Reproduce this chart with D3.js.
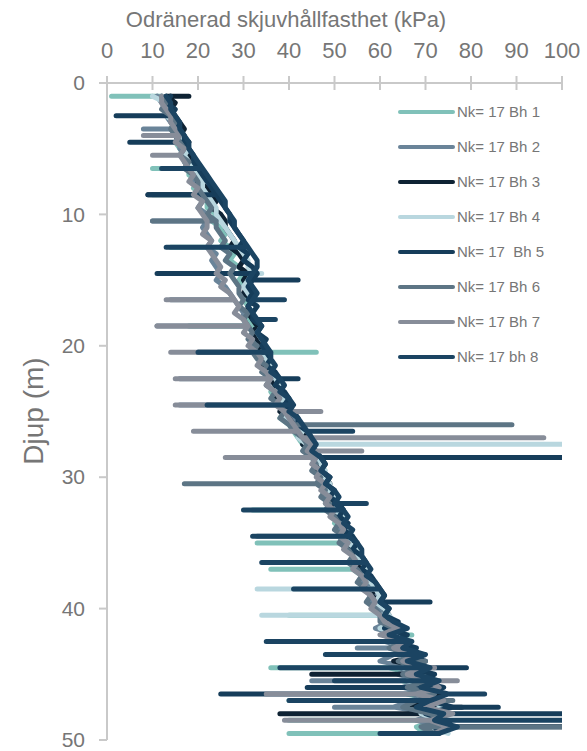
<!DOCTYPE html>
<html>
<head>
<meta charset="utf-8">
<script src="https://cdn.jsdelivr.net/npm/d3@7"></script>
<style>
  body { margin: 0; background: #fff; }
  text { font-family: "Liberation Sans", Arial, sans-serif; fill: #767676; }
</style>
</head>
<body>
<script>
// Depth grid (m), every 0.5 m from 1.0 to 49.5
var depths = d3.range(1, 49.75, 0.5);

var names = ["Nk= 17 Bh 1", "Nk= 17 Bh 2", "Nk= 17 Bh 3", "Nk= 17 Bh 4",
             "Nk= 17  Bh 5", "Nk= 17 Bh 6", "Nk= 17 Bh 7", "Nk= 17 bh 8"];
var colors = ["#80c1b9", "#6a8499", "#0e2233", "#b9d7df",
              "#163d5a", "#5d7585", "#878d99", "#1b4462"];

// Undrained shear strength (kPa) per borehole, one value per depth
var bh1 = [12, 14, 13, 14, 15, 14, 16, 15, 16, 17,
           17, 18, 18, 20, 19, 21, 22, 22, 24, 23,
           25, 26, 25, 27, 28, 27, 29, 30, 29, 30,
           31, 30, 31, 32, 31, 32, 33, 32, 34, 33,
           34, 35, 35, 36, 37, 36, 37, 38, 39, 38,
           40, 41, 42, 43, 44, 45, 46, 46, 47, 48,
           48, 49, 48, 50, 51, 50, 52, 51, 52, 53,
           54, 55, 54, 56, 57, 57, 58, 59, 60, 60,
           61, 64, 62, 66, 63, 67, 64, 62, 68, 65,
           70, 66, 72, 67, 69, 73, 68, 70];
var bh2 = [11, 12, 13, 13, 14, 15, 15, 16, 16, 17,
           17, 18, 19, 19, 20, 21, 21, 20, 22, 22,
           21, 22, 23, 22, 24, 23, 24, 25, 24, 26,
           27, 28, 29, 30, 30, 31, 32, 33, 32, 34,
           35, 34, 36, 35, 37, 38, 37, 39, 40, 41,
           42, 43, 44, 44, 45, 46, 47, 46, 48, 47,
           49, 48, 50, 49, 51, 52, 51, 53, 52, 54,
           55, 54, 56, 57, 56, 58, 59, 58, 60, 61,
           62, 59, 64, 61, 66, 63, 60, 67, 64, 69,
           65, 71, 67, 63, 72, 68, 74, 69];
var bh3 = [13, 15, 14, 15, 16, 17, 16, 18, 17, 18,
           19, 20, 21, 20, 22, 23, 24, 23, 25, 26,
           26, 27, 28, 27, 29, 30, 29, 31, 30, 31,
           30, 32, 31, 31, 32, 33, 32, 33, 34, 33,
           35, 34, 36, 36, 37, 38, 37, 39, 38, 40,
           41, 42, 44, 43, 45, 46, 47, 46, 48, 49,
           48, 50, 49, 51, 50, 52, 53, 52, 54, 53,
           55, 56, 55, 57, 58, 59, 58, 60, 61, 62,
           62, 65, 61, 66, 64, 69, 63, 70, 66, 72,
           68, 74, 70, 67, 73, 71, 76, 72];
var bh4 = [10, 13, 14, 13, 15, 15, 17, 16, 18, 17,
           18, 19, 20, 21, 21, 22, 23, 24, 24, 25,
           26, 27, 28, 29, 30, 31, 31, 32, 31, 30,
           31, 32, 33, 32, 33, 34, 33, 34, 35, 34,
           35, 36, 36, 37, 38, 37, 39, 38, 40, 39,
           41, 43, 42, 44, 45, 46, 47, 48, 47, 49,
           48, 50, 51, 50, 52, 51, 53, 54, 53, 55,
           55, 56, 57, 56, 58, 59, 60, 59, 61, 62,
           63, 60, 65, 62, 67, 64, 69, 65, 70, 66,
           72, 68, 71, 74, 69, 73, 70, 75];
var bh5 = [14, 13, 15, 14, 15, 16, 17, 17, 18, 19,
           19, 20, 21, 22, 23, 24, 25, 26, 27, 27,
           28, 29, 30, 29, 31, 30, 32, 33, 32, 31,
           32, 31, 33, 32, 32, 34, 33, 35, 34, 35,
           36, 35, 37, 38, 37, 39, 40, 39, 41, 42,
           42, 44, 45, 44, 46, 47, 48, 47, 49, 48,
           50, 49, 51, 52, 51, 53, 52, 54, 55, 54,
           56, 57, 56, 58, 59, 60, 61, 60, 62, 61,
           64, 61, 66, 63, 68, 65, 70, 66, 72, 68,
           74, 69, 71, 76, 70, 74, 72, 73];
var bh6 = [12, 13, 12, 14, 15, 14, 15, 16, 17, 16,
           18, 17, 19, 20, 20, 21, 22, 23, 22, 24,
           24, 25, 26, 25, 27, 26, 28, 27, 28, 29,
           29, 30, 29, 31, 30, 31, 32, 31, 33, 32,
           33, 35, 34, 36, 35, 37, 36, 38, 39, 38,
           40, 41, 43, 44, 43, 45, 46, 45, 47, 46,
           48, 47, 49, 48, 50, 51, 50, 52, 51, 53,
           54, 53, 55, 56, 55, 57, 58, 57, 59, 60,
           60, 63, 61, 65, 62, 67, 64, 68, 65, 70,
           66, 72, 68, 65, 71, 74, 69, 72];
var bh7 = [12, 12, 13, 14, 14, 15, 16, 15, 17, 16,
           17, 18, 19, 18, 20, 19, 21, 20, 21, 22,
           22, 21, 23, 22, 23, 24, 25, 24, 26, 25,
           27, 28, 29, 28, 30, 31, 30, 32, 31, 33,
           34, 33, 35, 36, 35, 37, 38, 37, 39, 40,
           41, 42, 43, 45, 44, 46, 45, 47, 46, 48,
           47, 49, 48, 50, 49, 51, 52, 51, 53, 52,
           54, 55, 54, 56, 57, 56, 58, 59, 58, 60,
           61, 64, 60, 66, 63, 68, 65, 69, 66, 71,
           73, 68, 74, 70, 76, 71, 75, 72];
var bh8 = [13, 14, 14, 15, 16, 16, 17, 18, 18, 19,
           20, 21, 22, 23, 24, 25, 26, 26, 27, 28,
           28, 29, 30, 31, 32, 33, 33, 32, 31, 32,
           33, 32, 31, 32, 33, 34, 33, 34, 35, 36,
           36, 37, 36, 38, 39, 38, 40, 41, 40, 42,
           43, 44, 45, 46, 45, 47, 48, 47, 49, 48,
           50, 51, 50, 52, 53, 52, 54, 53, 55, 56,
           56, 57, 58, 57, 59, 60, 61, 60, 62, 61,
           63, 66, 62, 67, 65, 70, 66, 71, 68, 73,
           69, 75, 71, 68, 74, 72, 77, 73];

// Thin layers: [depth (m), spike value (kPa)]
var spikes1 = [[1, 1], [6.5, 10], [8.5, 10], [12.5, 14], [18.5, 18], [20.5, 46], [28.5, 33],
               [32.5, 32], [35, 33], [37, 36], [40.5, 40], [42, 67], [44.5, 36], [47, 40],
               [48.5, 40], [49.5, 40]];
var spikes2 = [[3.5, 8], [10.5, 10], [16.5, 14], [22.5, 16], [24.5, 16], [34.5, 33],
               [43, 55], [45.5, 45], [47.5, 50], [49, 105]];
var spikes3 = [[1, 18], [8.5, 9], [45, 45], [47.5, 78], [48, 38], [49, 105]];
var spikes4 = [[14.5, 34], [27.5, 105], [38.5, 33], [40.5, 34]];
var spikes5 = [[2.5, 2], [4.5, 5], [8.5, 9], [14.5, 11], [15, 42], [20.5, 20], [22.5, 42],
               [28.5, 105], [39.5, 71], [44.5, 79], [46, 44], [46.5, 25], [47.5, 86], [48, 105]];
var spikes6 = [[10.5, 10], [18.5, 11], [26, 89], [30.5, 17], [44, 70], [47, 76], [49, 105]];
var spikes7 = [[4, 8], [5.5, 10], [16.5, 13], [18.5, 11], [20.5, 14], [22.5, 15], [24.5, 15],
               [25, 47], [26.5, 19], [27, 96], [28, 56], [28.5, 26], [36.5, 35], [44.5, 72],
               [45.5, 77], [46.5, 35], [47, 48], [48.5, 39]];
var spikes8 = [[6.5, 12], [12.5, 13], [16.5, 39], [18, 37], [20.5, 20], [24.5, 22], [26.5, 54],
               [32, 57], [32.5, 30], [34.5, 32], [36.5, 34], [38.5, 41], [42.5, 35], [43.5, 48],
               [44.5, 38], [45.5, 50], [46.5, 83], [47, 40], [48.5, 105], [49.5, 60]];

var series = [bh1, bh2, bh3, bh4, bh5, bh6, bh7, bh8];
var spikes = [spikes1, spikes2, spikes3, spikes4, spikes5, spikes6, spikes7, spikes8];

var xTicks = d3.range(0, 101, 10);
var yTicks = [0, 10, 20, 30, 40, 50];

//Width and height
var w = 587, h = 751;
var m = {top: 83, left: 107};
var pw = 455, ph = 657;

var x = d3.scaleLinear().domain([0, 100]).range([0, pw]);
var y = d3.scaleLinear().domain([0, 50]).range([0, ph]);

var svg = d3.select("body").append("svg")
    .attr("width", w)
    .attr("height", h);

svg.append("defs").append("clipPath").attr("id", "clip")
    .append("rect").attr("x", -2).attr("y", -2).attr("width", pw + 2).attr("height", ph + 4);

var g = svg.append("g").attr("transform", "translate(" + m.left + "," + m.top + ")");

// axes
var axisColor = "#c9c9c9";
g.append("line").attr("x1", 0).attr("x2", pw).attr("y1", 0).attr("y2", 0)
    .attr("stroke", axisColor).attr("stroke-width", 2);
g.append("line").attr("x1", 0).attr("x2", 0).attr("y1", 0).attr("y2", ph)
    .attr("stroke", axisColor).attr("stroke-width", 2);

g.selectAll(".xt").data(xTicks).enter().append("line")
    .attr("x1", d => x(d)).attr("x2", d => x(d))
    .attr("y1", -7).attr("y2", 7)
    .attr("stroke", axisColor).attr("stroke-width", 2);
g.selectAll(".xl").data(xTicks).enter().append("text")
    .attr("x", d => x(d)).attr("y", -25)
    .attr("text-anchor", "middle")
    .style("font-size", "22px")
    .text(d => d);

g.selectAll(".yt").data(yTicks).enter().append("line")
    .attr("y1", d => y(d)).attr("y2", d => y(d))
    .attr("x1", -8).attr("x2", 0)
    .attr("stroke", axisColor).attr("stroke-width", 2);
g.selectAll(".yl").data(yTicks).enter().append("text")
    .attr("x", -22).attr("y", d => y(d))
    .attr("dy", "0.34em")
    .attr("text-anchor", "end")
    .style("font-size", "21px")
    .text(d => d);

svg.append("text")
    .attr("x", 286).attr("y", 27)
    .attr("text-anchor", "middle")
    .style("font-size", "22px")
    .text("Odränerad skjuvhållfasthet (kPa)");

svg.append("text")
    .attr("transform", "translate(43,411) rotate(-90)")
    .attr("text-anchor", "middle")
    .style("font-size", "28px")
    .text("Djup (m)");

// profiles
var line = d3.line().x(d => x(d[1])).y(d => y(d[0]));

var lines = g.append("g").attr("clip-path", "url(#clip)");
series.forEach(function(vals, k) {
    var sp = new Map(spikes[k]);
    var pts = [];
    depths.forEach(function(d, i) {
        pts.push([d, vals[i]]);
        if (sp.has(d)) {
            pts.push([d, sp.get(d)]);
            pts.push([d, vals[i]]);
        }
    });
    lines.append("path")
        .datum(pts)
        .attr("fill", "none")
        .attr("stroke", colors[k])
        .attr("stroke-width", 5)
        .attr("stroke-linejoin", "round")
        .attr("stroke-linecap", "round")
        .attr("d", line);
});

// legend
var leg = svg.append("g").selectAll("g").data(names).enter().append("g")
    .attr("transform", (d, i) => "translate(400," + (112 + i * 35) + ")");
leg.append("line").attr("x1", 0).attr("x2", 53)
    .attr("stroke", (d, i) => colors[i])
    .attr("stroke-width", 4)
    .attr("stroke-linecap", "round");
leg.append("text").attr("x", 57).attr("dy", "0.35em")
    .style("font-size", "15px")
    .style("white-space", "pre")
    .attr("xml:space", "preserve")
    .text(d => d);
</script>
</body>
</html>
